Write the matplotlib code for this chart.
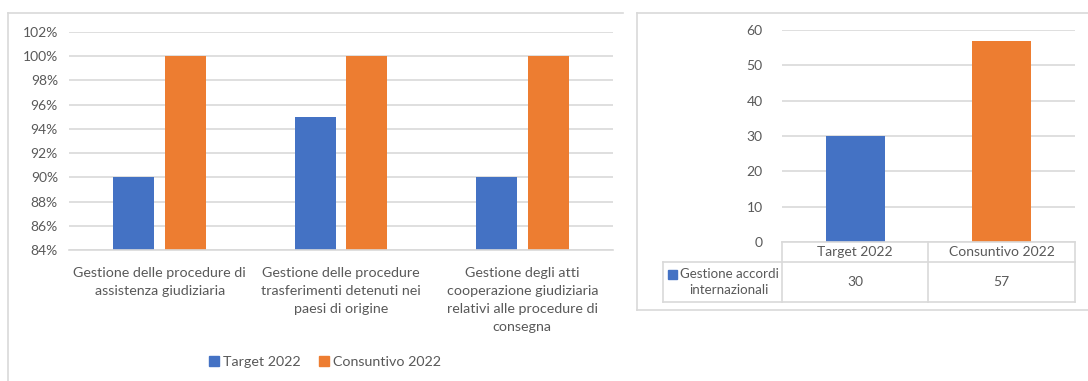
import matplotlib.pyplot as plt
import matplotlib.patches as patches
from matplotlib.lines import Line2D
from matplotlib.ticker import PercentFormatter

plt.rcParams['font.family'] = ['Lato', 'DejaVu Sans']

# left chart: percentages per activity
activities = [
    "Gestione delle procedure di\nassistenza giudiziaria",
    "Gestione delle procedure\ntrasferimenti detenuti nei\npaesi di origine",
    "Gestione degli atti\ncooperazione giudiziaria\nrelativi alle procedure di\nconsegna",
]
target_2022 = [90, 95, 90]
consuntivo_2022 = [100, 100, 100]
series_names = ["Target 2022", "Consuntivo 2022"]

# right chart: international agreements
agreement_row = "Gestione accordi\ninternazionali"
agreement_cols = ["Target 2022", "Consuntivo 2022"]
agreement_vals = [30, 57]

BLUE = "#4472C4"
ORANGE = "#ED7D31"
GRID = "#D9D9D9"
TXT = "#595959"

W, H = 1088, 381
fig = plt.figure(figsize=(W / 100, H / 100), dpi=100)


def px(x0, y0, x1, y1):
    # pixel box (top-left origin) -> figure fraction rect
    return [x0 / W, 1 - y1 / H, (x1 - x0) / W, (y1 - y0) / H]


# panel frames
fig.add_artist(Line2D([8 / W, 623 / W], [1 - 13 / H, 1 - 13 / H], color=GRID, lw=1.2))
fig.add_artist(Line2D([8 / W, 8 / W], [0, 1 - 13 / H], color=GRID, lw=1.2))
fig.add_artist(Line2D([637 / W, 1], [1 - 13 / H, 1 - 13 / H], color=GRID, lw=1.2))
fig.add_artist(Line2D([637 / W, 637 / W], [1 - 310 / H, 1 - 13 / H], color=GRID, lw=1.2))
fig.add_artist(Line2D([637 / W, 1], [1 - 310 / H, 1 - 310 / H], color=GRID, lw=1.2))

# ---- left chart
ax = fig.add_axes(px(69, 32, 613, 250))
x = range(len(activities))
bw = 0.226
off = bw / 2 + 0.03
ax.bar([i - off for i in x], target_2022, bw, color=BLUE, label=series_names[0])
ax.bar([i + off for i in x], consuntivo_2022, bw, color=ORANGE, label=series_names[1])
ax.set_xlim(-0.5, len(activities) - 0.5)
ax.set_ylim(84, 102)
ax.set_yticks(range(84, 103, 2))
ax.yaxis.set_major_formatter(PercentFormatter(decimals=0))
ax.set_xticks(list(x))
ax.set_xticklabels(activities, linespacing=1.62, fontsize=10.3)
ax.grid(axis='y', color=GRID, lw=1.2)
ax.set_axisbelow(True)
for s in ['top', 'right', 'left']:
    ax.spines[s].set_visible(False)
ax.spines['bottom'].set_color(GRID)
ax.spines['bottom'].set_linewidth(1.2)
ax.tick_params(length=0, colors=TXT)
ax.tick_params(axis='y', pad=8, labelsize=10)
ax.tick_params(axis='x', pad=12)

handles = [patches.Patch(color=BLUE), patches.Patch(color=ORANGE)]
fig.legend(handles, series_names, loc='center', bbox_to_anchor=(325 / W, 1 - 362 / H),
           ncol=2, frameon=False, fontsize=10.3, labelcolor=TXT,
           handlelength=0.7, handleheight=0.7, handletextpad=0.3, columnspacing=1.3)

# ---- right chart
ax2 = fig.add_axes(px(782, 30, 1075, 242))
ax2.bar([0, 1], agreement_vals, 0.40, color=[BLUE, ORANGE])
ax2.set_xlim(-0.5, 1.5)
ax2.set_ylim(0, 60)
ax2.set_yticks(range(0, 61, 10))
ax2.set_xticks([])
ax2.grid(axis='y', color=GRID, lw=1.2)
ax2.set_axisbelow(True)
for s in ['top', 'right', 'left', 'bottom']:
    ax2.spines[s].set_visible(False)
ax2.tick_params(length=0, colors=TXT, labelsize=10, pad=14)

# data table under the chart
top = 1 - 242 / H
mid = 1 - 262 / H
bot = 1 - 302 / H
xl, x0, xm, xr = 663 / W, 782 / W, 928 / W, 1075 / W
tlines = [
    ([x0, xr], [top, top]), ([xl, xr], [mid, mid]), ([xl, xr], [bot, bot]),
    ([xl, xl], [mid, bot]), ([x0, x0], [top, bot]), ([xm, xm], [top, bot]),
    ([xr, xr], [top, bot]),
]
for xs, ys in tlines:
    fig.add_artist(Line2D(xs, ys, color=GRID, lw=1.2))

col_centers = [(x0 + xm) / 2, (xm + xr) / 2]
for cx, name, val in zip(col_centers, agreement_cols, agreement_vals):
    fig.text(cx, (top + mid) / 2, name, ha='center', va='center', color=TXT, fontsize=10)
    fig.text(cx, (mid + bot) / 2, str(val), ha='center', va='center', color=TXT, fontsize=10)

fig.add_artist(patches.Rectangle((668 / W, 1 - 279 / H), 9 / W, 9 / H,
                                 transform=fig.transFigure, color=BLUE))
fig.text(729 / W, (mid + bot) / 2, agreement_row, ha='center', va='center',
         color=TXT, fontsize=9.6, linespacing=1.5)

fig.savefig("out.png", dpi=100)
